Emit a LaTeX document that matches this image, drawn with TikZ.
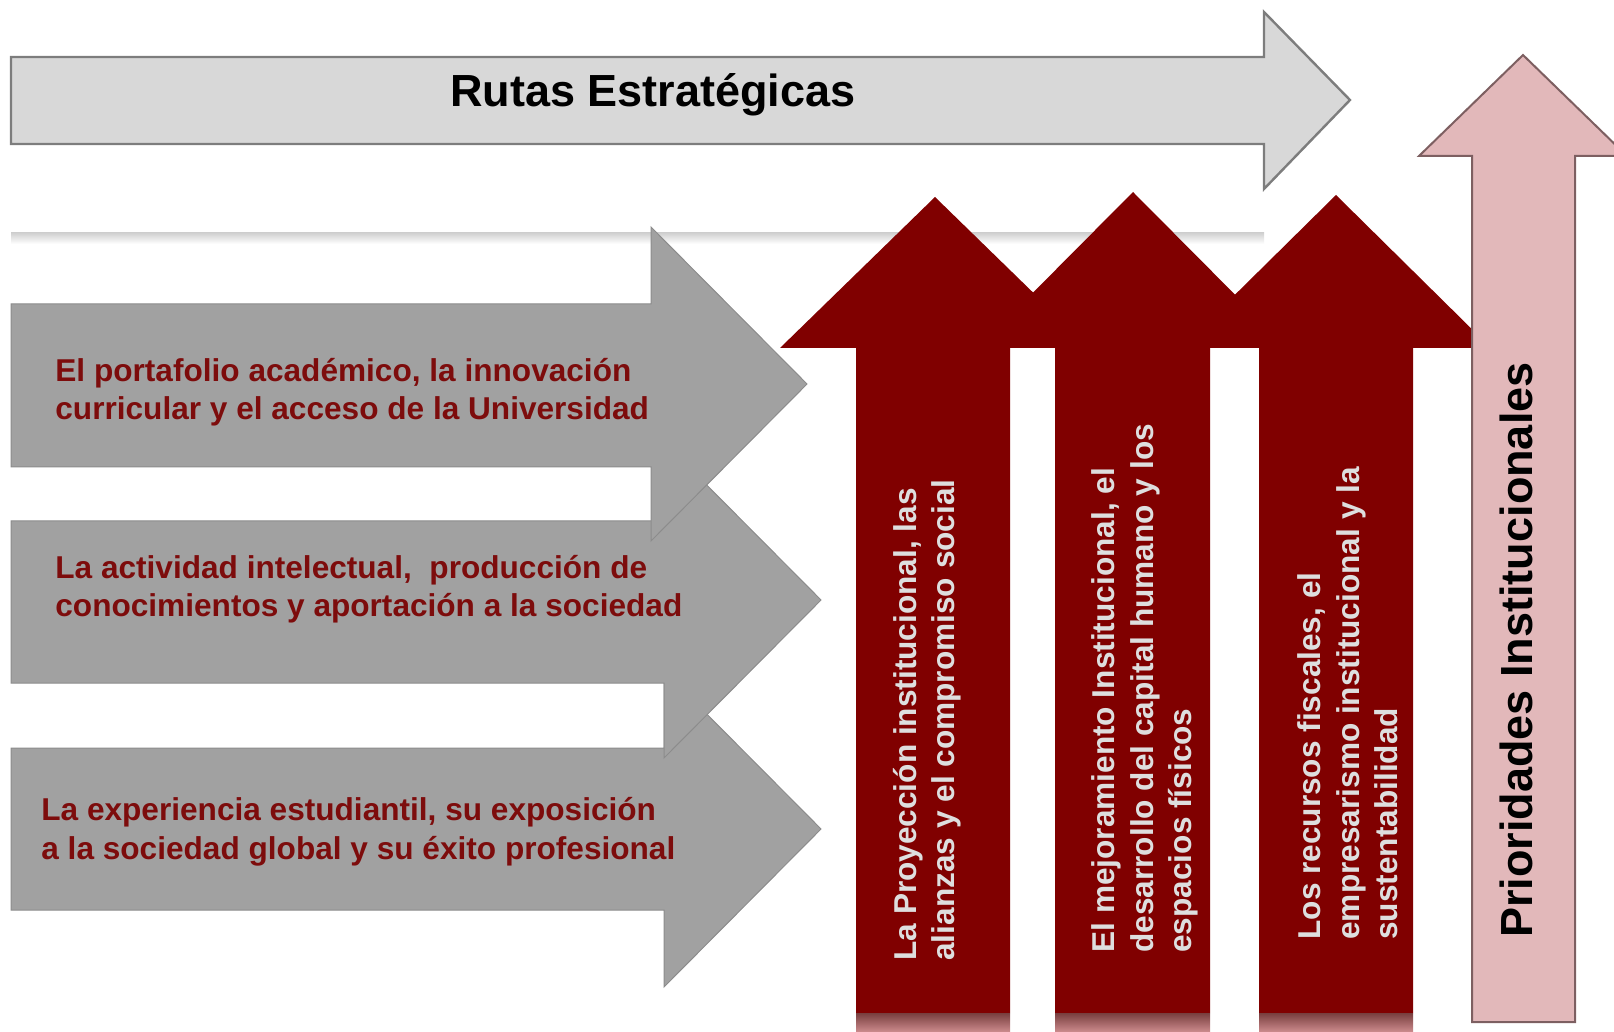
\documentclass[tikz,border=0pt]{standalone}
\usepackage{fontspec}
\setmainfont{Liberation Sans}
\usepackage{tikz}
\usetikzlibrary{shapes.geometric, arrows}
\definecolor{wine}{RGB}{128,0,0}
\definecolor{winetext}{RGB}{125,12,12}
\definecolor{palered}{RGB}{205,140,142}
\definecolor{darkred}{RGB}{120,62,62}
\definecolor{pinkish}{RGB}{226,184,186}
\definecolor{pinkline}{RGB}{125,95,97}
\definecolor{midgray}{RGB}{161,161,161}
\definecolor{edgegray}{RGB}{140,140,140}
\definecolor{lightgray2}{RGB}{216,216,216}
\definecolor{topline}{RGB}{125,125,125}
\definecolor{paletext}{RGB}{222,222,222}
\tikzstyle{toparrow} = [fill=lightgray2, 
draw=topline, 
line width=1.2pt]
\tikzstyle{grayarrow} = [fill=midgray, 
draw=edgegray, 
line width=0.5pt]
\tikzstyle{redarrow} = [fill=wine]
\tikzstyle{pinkarrow} = [fill=pinkish, 
draw=pinkline, 
line width=1pt]
\tikzstyle{rutatext} = [inner sep=0pt, 
anchor=west, 
align=left, 
text=winetext, 
font=\fontsize{15.8}{19.3}\selectfont\bfseries]
\tikzstyle{priotext} = [inner sep=0pt, 
anchor=west, 
rotate=90, 
align=left, 
text=paletext, 
font=\fontsize{15.8}{19.2}\selectfont\bfseries]
\tikzstyle{bigtext} = [inner sep=0pt, 
font=\fontsize{22.5}{27}\selectfont\bfseries]

\begin{document}
\begin{tikzpicture}[x=0.5pt, y=-0.5pt]
\useasboundingbox (0,0) rectangle (1614,1032);
\shade [top color=black!18, bottom color=white] (11,233) rectangle (1264,244);
\draw [toparrow] (11,57) -- (1264,57) -- (1264,12) -- (1350,100) -- (1264,189) -- (1264,144) -- (11,144) -- cycle;
\draw [grayarrow] (11,748) -- (664,748) -- (664,671) -- (821,829) -- (664,987) -- (664,910) -- (11,910) -- cycle;
\draw [grayarrow] (11,521) -- (664,521) -- (664,442) -- (821,600) -- (664,758) -- (664,683) -- (11,683) -- cycle;
\draw [grayarrow] (11,304) -- (651,304) -- (651,227) -- (807,384) -- (651,541) -- (651,467) -- (11,467) -- cycle;
\fill [redarrow] (856,1013) -- (856,348) -- (780,348) -- (935,197) -- (1090,348) -- (1010,348) -- (1010,1013) -- cycle;
\fill [redarrow] (1055,1013) -- (1055,348) -- (978,348) -- (1133,192) -- (1288,348) -- (1210,348) -- (1210,1013) -- cycle;
\fill [redarrow] (1259,1013) -- (1259,348) -- (1181,348) -- (1336,195) -- (1491,348) -- (1413,348) -- (1413,1013) -- cycle;
\shade [top color=darkred, bottom color=palered] (856,1013) rectangle (1010,1032);
\shade [top color=darkred, bottom color=palered] (1055,1013) rectangle (1210,1032);
\shade [top color=darkred, bottom color=palered] (1259,1013) rectangle (1413,1032);
\draw [pinkarrow] (1472,1022) -- (1472,156) -- (1419,156) -- (1523,55) -- (1627,156) -- (1575,156) -- (1575,1022) -- cycle;
\node (title) [bigtext] at (653,95) {Rutas Estratégicas};
\node (g1) [rutatext] at (55,392) {El portafolio académico, la innovación\\curricular y el acceso de la Universidad};
\node (g2) [rutatext] at (55,589) {La actividad intelectual,~ producción de\\conocimientos y aportación a la sociedad};
\node (g3) [rutatext] at (41,832) {La experiencia estudiantil, su exposición\\a la sociedad global y su éxito profesional};
\node (r1) [priotext] at (927,961) {La Proyección institucional, las\\alianzas y el compromiso social};
\node (r2) [priotext] at (1145,953) {El mejoramiento Institucional, el\\desarrollo del capital humano y los\\espacios físicos};
\node (r3) [priotext] at (1348,940) {Los recursos fiscales, el\\empresarismo institucional y la\\sustentabilidad};
\node (prio) [bigtext, rotate=90] at (1516,650) {Prioridades Institucionales};
\end{tikzpicture}
\end{document}
